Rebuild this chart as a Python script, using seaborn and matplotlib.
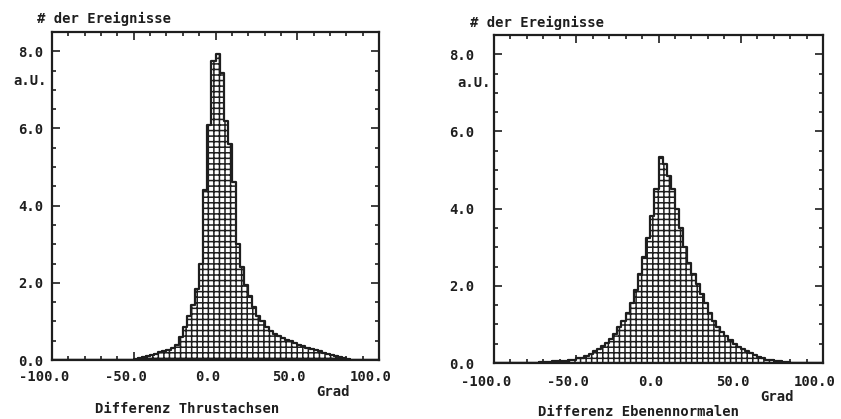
import numpy as np
import pandas as pd
import matplotlib
matplotlib.use("Agg")
import matplotlib.pyplot as plt
import matplotlib.transforms as mtransforms
from matplotlib.ticker import MultipleLocator
import seaborn as sns

# 2.5 degree bins from -100 to 100
bin_edges = list(np.arange(-100.0, 100.1, 2.5))
bin_centers = [e + 1.25 for e in bin_edges[:-1]]

# one value per bin (a.U.)
thrust_heights = [
    0, 0, 0, 0, 0, 0, 0, 0, 0, 0,
    0, 0, 0, 0, 0, 0, 0, 0, 0, 0,
    0.02, 0.05, 0.08, 0.10, 0.13, 0.16, 0.20, 0.23, 0.27, 0.31,
    0.40, 0.60, 0.85, 1.15, 1.42, 1.85, 2.50, 4.40, 6.10, 7.75,
    7.92, 7.45, 6.20, 5.60, 4.60, 3.00, 2.40, 1.95, 1.65, 1.38,
    1.15, 1.00, 0.85, 0.76, 0.68, 0.62, 0.56, 0.52, 0.48, 0.43,
    0.39, 0.36, 0.32, 0.29, 0.26, 0.23, 0.19, 0.15, 0.12, 0.10,
    0.07, 0.05, 0.03, 0.01, 0, 0, 0, 0, 0, 0,
]
normal_heights = [
    0, 0, 0, 0, 0, 0, 0, 0, 0, 0,
    0.01, 0.02, 0.02, 0.03, 0.04, 0.04, 0.05, 0.06, 0.07, 0.09,
    0.12, 0.14, 0.18, 0.24, 0.30, 0.36, 0.45, 0.53, 0.63, 0.74,
    0.92, 1.10, 1.30, 1.55, 1.90, 2.30, 2.75, 3.25, 3.80, 4.50,
    5.35, 5.15, 4.85, 4.50, 4.00, 3.50, 3.00, 2.60, 2.30, 2.05,
    1.80, 1.55, 1.30, 1.08, 0.93, 0.80, 0.69, 0.60, 0.50, 0.42,
    0.35, 0.30, 0.25, 0.20, 0.16, 0.12, 0.09, 0.07, 0.05, 0.04,
    0.03, 0.02, 0.01, 0, 0, 0, 0, 0, 0, 0,
]

x_ticks = [-100, -50, 0, 50, 100]
y_ticks = [0, 2, 4, 6, 8]
y_title = "# der Ereignisse"
y_unit = "a.U."
x_unit = "Grad"
titles = ["Differenz Thrustachsen", "Differenz Ebenennormalen"]

sns.set_style("ticks")
plt.rcParams["font.family"] = ["DejaVu Sans Mono", "DejaVu Sans"]
plt.rcParams["font.weight"] = "bold"
plt.rcParams["hatch.linewidth"] = 1.1
ink = "#1e1e1e"

fig = plt.figure(figsize=(8.41, 4.19), dpi=100)
W, H = 841, 419

panels = [
    dict(heights=thrust_heights, pos=[52, 32, 379, 360], ypad=6.5, xpad=7,
         ytitle=(37, 19), yunit=(13, 81), grad=(333, 392), title=(187, 409)),
    dict(heights=normal_heights, pos=[494, 35, 823, 363], ypad=14, xpad=8.5,
         ytitle=(470, 23), yunit=(457, 83), grad=(777, 397), title=(638, 412)),
]

shift = mtransforms.ScaledTranslation(-8 / 100, 0, fig.dpi_scale_trans)

for p, title in zip(panels, titles):
    x0, y0, x1, y1 = p["pos"]
    ax = fig.add_axes([x0 / W, 1 - y1 / H, (x1 - x0) / W, (y1 - y0) / H])
    df = pd.DataFrame({"deg": bin_centers, "h": p["heights"]})
    sns.histplot(data=df, x="deg", weights="h", bins=bin_edges,
                 element="step", fill=True, facecolor="white", edgecolor=ink,
                 linewidth=1.6, hatch="+++", alpha=1, ax=ax)
    ax.set_xlim(-100, 100)
    ax.set_ylim(0, 8.5)
    ax.set_xticks(x_ticks)
    ax.set_yticks(y_ticks)
    ax.set_xticklabels([f"{v:.1f}" for v in x_ticks])
    ax.set_yticklabels([f"{v:.1f}" for v in y_ticks])
    ax.xaxis.set_minor_locator(MultipleLocator(10))
    ax.yaxis.set_minor_locator(MultipleLocator(0.5))
    ax.tick_params(which="both", direction="in", top=True, right=True,
                   colors=ink, labelsize=10, width=1.2)
    ax.tick_params(which="major", length=6)
    ax.tick_params(which="minor", length=3)
    ax.tick_params(axis="y", pad=p["ypad"])
    ax.tick_params(axis="x", pad=p["xpad"])
    for lab in ax.get_xticklabels():
        lab.set_transform(lab.get_transform() + shift)
    ax.set_xlabel("")
    ax.set_ylabel("")
    for sp in ax.spines.values():
        sp.set_visible(True)
        sp.set_linewidth(1.6)
        sp.set_color(ink)

    fig.text(p["ytitle"][0] / W, 1 - p["ytitle"][1] / H, y_title,
             fontsize=10, color=ink, ha="left", va="center")
    fig.text(p["yunit"][0] / W, 1 - p["yunit"][1] / H, y_unit,
             fontsize=10, color=ink, ha="left", va="center")
    fig.text(p["grad"][0] / W, 1 - p["grad"][1] / H, x_unit,
             fontsize=10, color=ink, ha="center", va="center")
    fig.text(p["title"][0] / W, 1 - p["title"][1] / H, title,
             fontsize=10, color=ink, ha="center", va="center")

fig.savefig("out.png", dpi=100, facecolor="white")
